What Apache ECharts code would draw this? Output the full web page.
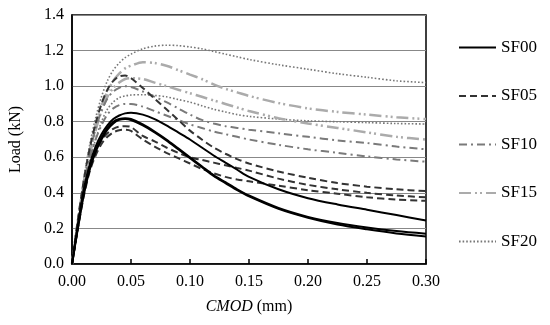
<!DOCTYPE html>
<html><head><meta charset="utf-8">
<script src="https://cdn.jsdelivr.net/npm/echarts@6/dist/echarts.min.js"></script>
<style>html,body{margin:0;padding:0;background:#fff}#c{width:550px;height:325px}</style>
</head><body><div id="c"></div>
<script>
// CMOD sample positions (mm)
var cmod = [0, .005, .01, .015, .02, .025, .03, .035, .04, .045, .05, .06, .07, .08, .09, .10, .11, .12, .13, .14, .15, .175, .20, .225, .25, .275, .30];
// Load (kN) per specimen
var sf00a = [0, .22, .42, .56, .66, .73, .78, .815, .835, .847, .85, .84, .815, .78, .74, .70, .655, .61, .57, .53, .49, .42, .37, .335, .305, .275, .245];
var sf00b = [0, .21, .40, .54, .64, .71, .765, .80, .815, .82, .815, .785, .745, .70, .65, .60, .55, .50, .46, .42, .385, .315, .265, .23, .205, .185, .17];
var sf00c = [0, .20, .39, .53, .63, .70, .755, .79, .81, .815, .81, .78, .74, .695, .645, .595, .545, .495, .455, .415, .38, .31, .26, .222, .195, .172, .155];
var sf05a = [0, .25, .47, .65, .79, .90, .98, 1.03, 1.055, 1.06, 1.045, .99, .93, .87, .81, .75, .70, .655, .62, .59, .565, .52, .485, .455, .435, .42, .41];
var sf05b = [0, .21, .40, .54, .63, .695, .735, .76, .772, .775, .77, .72, .69, .655, .625, .60, .585, .57, .555, .54, .525, .48, .445, .42, .40, .385, .375];
var sf05c = [0, .20, .38, .52, .61, .675, .715, .74, .752, .755, .748, .70, .66, .625, .595, .565, .535, .51, .49, .475, .465, .44, .415, .395, .375, .362, .355];
var sf10a = [0, .24, .45, .62, .76, .86, .93, .97, .99, 1.0, .995, .97, .94, .91, .875, .84, .81, .79, .775, .765, .755, .735, .715, .695, .68, .66, .645];
var sf10b = [0, .23, .43, .59, .70, .78, .84, .875, .893, .90, .90, .885, .86, .835, .81, .785, .765, .745, .73, .715, .70, .67, .645, .625, .605, .588, .575];
var sf15a = [0, .24, .46, .64, .78, .89, .97, 1.03, 1.07, 1.10, 1.115, 1.135, 1.13, 1.115, 1.09, 1.065, 1.04, 1.01, .985, .965, .945, .905, .875, .855, .84, .825, .815];
var sf15b = [0, .23, .44, .61, .75, .86, .94, .99, 1.02, 1.04, 1.045, 1.04, 1.02, 1.0, .98, .96, .94, .92, .90, .88, .86, .82, .79, .765, .74, .715, .70];
var sf20a = [0, .25, .48, .67, .82, .94, 1.03, 1.09, 1.13, 1.16, 1.18, 1.21, 1.225, 1.23, 1.228, 1.22, 1.21, 1.195, 1.18, 1.165, 1.15, 1.12, 1.095, 1.07, 1.05, 1.03, 1.02];
var sf20b = [0, .22, .42, .58, .70, .80, .87, .91, .935, .945, .95, .952, .948, .94, .925, .91, .89, .87, .855, .84, .83, .815, .805, .80, .795, .79, .787];
var groups = ['SF00', 'SF05', 'SF10', 'SF15', 'SF20'];
var curves = [[sf00a, sf00b, sf00c], [sf05a, sf05b, sf05c], [sf10a, sf10b], [sf15a, sf15b], [sf20a, sf20b]];
var xTicks = [0, 0.05, 0.10, 0.15, 0.20, 0.25, 0.30];
var yTicks = [0, 0.2, 0.4, 0.6, 0.8, 1.0, 1.2, 1.4];

var styles = [
  {color: '#000', width: 2, type: 'solid'},
  {color: '#333', width: 2, type: [7, 4]},
  {color: '#7a7a7a', width: 2, type: [8, 4, 2, 4]},
  {color: '#ababab', width: 2.5, type: [12, 4, 2, 3, 2, 4]},
  {color: '#777', width: 1.6, type: [1.6, 2]}
];
var FF = '"Liberation Serif","Times New Roman",serif';
var series = [];
curves.forEach(function (g, gi) {
  g.forEach(function (ys) {
    series.push({
      name: groups[gi], type: 'line', smooth: 0.3, symbol: 'none',
      data: cmod.map(function (x, i) { return [x, ys[i]]; }),
      lineStyle: styles[gi], itemStyle: {color: styles[gi].color},
      z: 10 - gi
    });
  });
});
var chart = echarts.init(document.getElementById('c'));
chart.setOption({
  animation: false,
  grid: {left: 72, right: 124, top: 15, bottom: 61, show: true, borderColor: '#000', borderWidth: 1.5, backgroundColor: 'transparent'},
  legend: {
    orient: 'vertical', left: 453, top: 34, itemWidth: 37, itemHeight: 14, itemGap: 31.5,
    data: groups,
    itemStyle: {opacity: 0},
    textStyle: {fontFamily: FF, fontSize: 17, color: '#000'},
    selectedMode: false
  },
  xAxis: {
    type: 'value', min: 0, max: 0.3, interval: 0.05,
    axisLine: {lineStyle: {color: '#000', width: 1.5}},
    axisTick: {inside: true, length: 5, lineStyle: {color: '#000', width: 1.5}},
    splitLine: {show: false},
    axisLabel: {fontFamily: FF, fontSize: 16, color: '#000', margin: 10, formatter: function (v) { return v.toFixed(2); }},
    name: '{i|CMOD} (mm)', nameLocation: 'middle', nameGap: 35,
    nameTextStyle: {fontFamily: FF, fontSize: 16, color: '#000', rich: {i: {fontFamily: FF, fontSize: 16, fontStyle: 'italic', color: '#000'}}}
  },
  yAxis: {
    type: 'value', min: 0, max: 1.4, interval: 0.2,
    axisLine: {show: true, lineStyle: {color: '#000', width: 1.5}},
    axisTick: {show: false},
    splitLine: {lineStyle: {color: '#888', width: 1}},
    axisLabel: {fontFamily: FF, fontSize: 16, color: '#000', margin: 8, formatter: function (v) { return v.toFixed(1); }},
    name: 'Load (kN)', nameLocation: 'middle', nameGap: 48,
    nameTextStyle: {fontFamily: FF, fontSize: 16, color: '#000'}
  },
  series: series
});
</script></body></html>
